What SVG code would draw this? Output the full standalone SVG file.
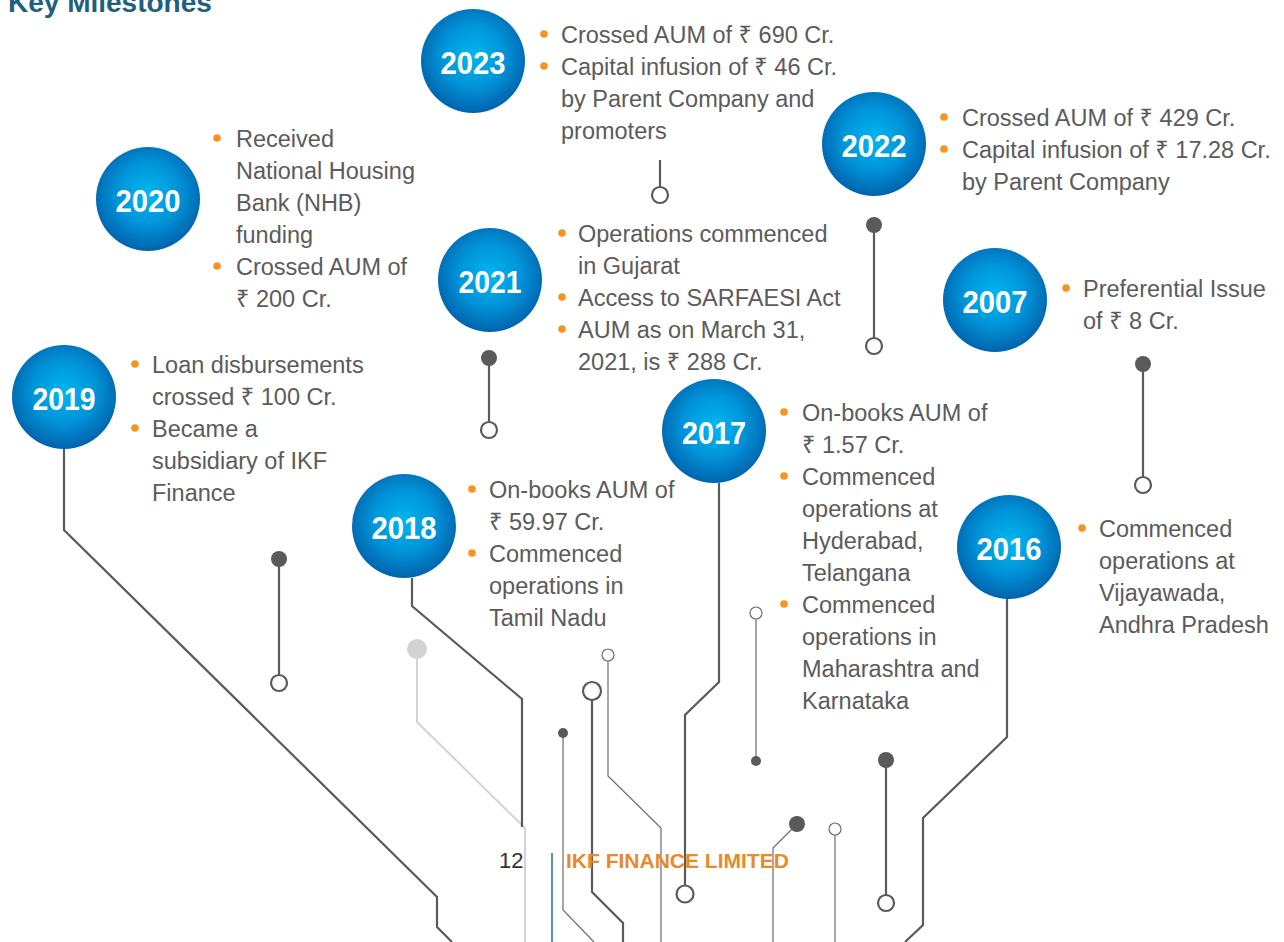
<svg xmlns="http://www.w3.org/2000/svg" width="1284" height="942" viewBox="0 0 1284 942">
<defs>
<radialGradient id="ball" cx="50%" cy="45%" r="55%">
<stop offset="0" stop-color="#00b7f1"/>
<stop offset="0.55" stop-color="#0093d8"/>
<stop offset="1" stop-color="#0063ad"/>
</radialGradient>
<style>
.ball{fill:url(#ball)}
.yr{font-family:"Liberation Sans",Arial,sans-serif;font-weight:bold;font-size:32px;fill:#ffffff;text-anchor:middle}
.tx{font-family:"Liberation Sans","Noto Sans","DejaVu Sans",sans-serif;font-size:23.5px;fill:#5b5b5d}
.bul{fill:#f7941d}
.ln{fill:none;stroke:#5a5a5c;stroke-width:2.2;stroke-linejoin:miter}
.thin{fill:none;stroke:#6d6d6f;stroke-width:1.2}
.light{fill:none;stroke:#d3d3d3;stroke-width:2}
.dot{fill:#5a5a5c}
.ring{fill:#ffffff;stroke:#5a5a5c;stroke-width:2.2}
.ringt{fill:#ffffff;stroke:#6d6d6f;stroke-width:1.2}
</style>
</defs>
<rect width="1284" height="942" fill="#ffffff"/>
<text x="8" y="12" font-family="'Liberation Sans',Arial,sans-serif" font-weight="bold" font-size="28" fill="#1f5f80">Key Milestones</text>

<g id="connectors">
<polyline class="ln" points="64,449 64,530 437,897 437,927 452,942"/>
<line class="ln" x1="279" y1="559" x2="279" y2="683"/>
<circle class="dot" cx="279" cy="559" r="8"/>
<circle class="ring" cx="279" cy="683" r="8"/>
<polyline class="light" points="417,649 417,722 525,828 525,942"/>
<circle cx="417" cy="649" r="10" fill="#d3d3d3"/>
<polyline class="ln" points="412,578 412,606 522,699 522,827"/>
<polyline class="thin" points="563,733 563,910 594,942"/>
<circle class="dot" cx="563" cy="733" r="5"/>
<polyline class="ln" points="592,700 592,892 623,923 623,942"/>
<circle class="ring" cx="592" cy="691" r="9"/>
<polyline class="thin" points="608,661 608,776 661,828 661,942"/>
<circle class="ringt" cx="608" cy="655" r="6"/>
<polyline class="ln" points="719,483 719,682 685,715 685,885"/>
<circle class="ring" cx="685" cy="894" r="8.5"/>
<line class="thin" x1="756" y1="619" x2="756" y2="761"/>
<circle class="ringt" cx="756" cy="613" r="6"/>
<circle class="dot" cx="756" cy="761" r="5"/>
<polyline class="thin" points="797,824 773,848 773,942"/>
<circle class="dot" cx="797" cy="824" r="8"/>
<line class="thin" x1="835" y1="835" x2="835" y2="942"/>
<circle class="ringt" cx="835" cy="829" r="6"/>
<line class="ln" x1="886" y1="760" x2="886" y2="903"/>
<circle class="dot" cx="886" cy="760" r="8"/>
<circle class="ring" cx="886" cy="903" r="8"/>
<polyline class="ln" points="1007,598 1007,737 923,818 923,925 905,942"/>
<line class="ln" x1="660" y1="160" x2="660" y2="187"/>
<circle class="ring" cx="660" cy="195" r="8"/>
<line class="ln" x1="874" y1="225" x2="874" y2="346"/>
<circle class="dot" cx="874" cy="225" r="8"/>
<circle class="ring" cx="874" cy="346" r="8"/>
<line class="ln" x1="489" y1="358" x2="489" y2="430"/>
<circle class="dot" cx="489" cy="358" r="8"/>
<circle class="ring" cx="489" cy="430" r="8"/>
<line class="ln" x1="1143" y1="364" x2="1143" y2="485"/>
<circle class="dot" cx="1143" cy="364" r="8"/>
<circle class="ring" cx="1143" cy="485" r="8"/>
</g>

<g id="n2023">
<circle class="ball" cx="473" cy="61" r="52"/>
<text class="yr" x="473" y="74" textLength="65" lengthAdjust="spacingAndGlyphs">2023</text>
<circle class="bul" cx="544" cy="34" r="3.8"/>
<circle class="bul" cx="544" cy="66" r="3.8"/>
<text class="tx" x="561" y="43">Crossed AUM of ₹ 690 Cr.</text>
<text class="tx" x="561" y="75">Capital infusion of ₹ 46 Cr.</text>
<text class="tx" x="561" y="107">by Parent Company and</text>
<text class="tx" x="561" y="139">promoters</text>
</g>

<g id="n2022">
<circle class="ball" cx="874" cy="144" r="52"/>
<text class="yr" x="874" y="157" textLength="65" lengthAdjust="spacingAndGlyphs">2022</text>
<circle class="bul" cx="944" cy="117" r="3.8"/>
<circle class="bul" cx="944" cy="149" r="3.8"/>
<text class="tx" x="962" y="126">Crossed AUM of ₹ 429 Cr.</text>
<text class="tx" x="962" y="158">Capital infusion of ₹ 17.28 Cr.</text>
<text class="tx" x="962" y="190">by Parent Company</text>
</g>

<g id="n2007">
<circle class="ball" cx="995" cy="300" r="52"/>
<text class="yr" x="995" y="313" textLength="65" lengthAdjust="spacingAndGlyphs">2007</text>
<circle class="bul" cx="1066" cy="288" r="3.8"/>
<text class="tx" x="1083" y="297">Preferential Issue</text>
<text class="tx" x="1083" y="329">of ₹ 8 Cr.</text>
</g>

<g id="n2020">
<circle class="ball" cx="148" cy="199" r="52"/>
<text class="yr" x="148" y="212" textLength="65" lengthAdjust="spacingAndGlyphs">2020</text>
<circle class="bul" cx="217" cy="138" r="3.8"/>
<circle class="bul" cx="217" cy="266" r="3.8"/>
<text class="tx" x="236" y="147">Received</text>
<text class="tx" x="236" y="179">National Housing</text>
<text class="tx" x="236" y="211">Bank (NHB)</text>
<text class="tx" x="236" y="243">funding</text>
<text class="tx" x="236" y="275">Crossed AUM of</text>
<text class="tx" x="236" y="307">₹ 200 Cr.</text>
</g>

<g id="n2021">
<circle class="ball" cx="490" cy="280" r="52"/>
<text class="yr" x="490" y="293" textLength="63" lengthAdjust="spacingAndGlyphs">2021</text>
<circle class="bul" cx="562" cy="233" r="3.8"/>
<circle class="bul" cx="562" cy="297" r="3.8"/>
<circle class="bul" cx="562" cy="329" r="3.8"/>
<text class="tx" x="578" y="242">Operations commenced</text>
<text class="tx" x="578" y="274">in Gujarat</text>
<text class="tx" x="578" y="306">Access to SARFAESI Act</text>
<text class="tx" x="578" y="338">AUM as on March 31,</text>
<text class="tx" x="578" y="370">2021, is ₹ 288 Cr.</text>
</g>

<g id="n2019">
<circle class="ball" cx="64" cy="397" r="52"/>
<text class="yr" x="64" y="410" textLength="63" lengthAdjust="spacingAndGlyphs">2019</text>
<circle class="bul" cx="135" cy="364" r="3.8"/>
<circle class="bul" cx="135" cy="428" r="3.8"/>
<text class="tx" x="152" y="373">Loan disbursements</text>
<text class="tx" x="152" y="405">crossed ₹ 100 Cr.</text>
<text class="tx" x="152" y="437">Became a</text>
<text class="tx" x="152" y="469">subsidiary of IKF</text>
<text class="tx" x="152" y="501">Finance</text>
</g>

<g id="n2018">
<circle class="ball" cx="404" cy="526" r="52"/>
<text class="yr" x="404" y="539" textLength="65" lengthAdjust="spacingAndGlyphs">2018</text>
<circle class="bul" cx="472" cy="489" r="3.8"/>
<circle class="bul" cx="472" cy="553" r="3.8"/>
<text class="tx" x="489" y="498">On-books AUM of</text>
<text class="tx" x="489" y="530">₹ 59.97 Cr.</text>
<text class="tx" x="489" y="562">Commenced</text>
<text class="tx" x="489" y="594">operations in</text>
<text class="tx" x="489" y="626">Tamil Nadu</text>
</g>

<g id="n2017">
<circle class="ball" cx="714" cy="431" r="52"/>
<text class="yr" x="714" y="444" textLength="64" lengthAdjust="spacingAndGlyphs">2017</text>
<circle class="bul" cx="784" cy="412" r="3.8"/>
<circle class="bul" cx="784" cy="476" r="3.8"/>
<circle class="bul" cx="784" cy="604" r="3.8"/>
<text class="tx" x="802" y="421">On-books AUM of</text>
<text class="tx" x="802" y="453">₹ 1.57 Cr.</text>
<text class="tx" x="802" y="485">Commenced</text>
<text class="tx" x="802" y="517">operations at</text>
<text class="tx" x="802" y="549">Hyderabad,</text>
<text class="tx" x="802" y="581">Telangana</text>
<text class="tx" x="802" y="613">Commenced</text>
<text class="tx" x="802" y="645">operations in</text>
<text class="tx" x="802" y="677">Maharashtra and</text>
<text class="tx" x="802" y="709">Karnataka</text>
</g>

<g id="n2016">
<circle class="ball" cx="1009" cy="547" r="52"/>
<text class="yr" x="1009" y="560" textLength="65" lengthAdjust="spacingAndGlyphs">2016</text>
<circle class="bul" cx="1082" cy="528" r="3.8"/>
<text class="tx" x="1099" y="537">Commenced</text>
<text class="tx" x="1099" y="569">operations at</text>
<text class="tx" x="1099" y="601">Vijayawada,</text>
<text class="tx" x="1099" y="633">Andhra Pradesh</text>
</g>

<g id="footer">
<text x="499" y="868" font-family="'Liberation Sans',Arial,sans-serif" font-size="22" fill="#333333">12</text>
<line x1="552" y1="853" x2="552" y2="942" stroke="#1f6f9a" stroke-width="1.5"/>
<text x="566" y="868" font-family="'Liberation Sans',Arial,sans-serif" font-weight="bold" font-size="21" fill="#e8892a">IKF FINANCE LIMITED</text>
</g>
</svg>
